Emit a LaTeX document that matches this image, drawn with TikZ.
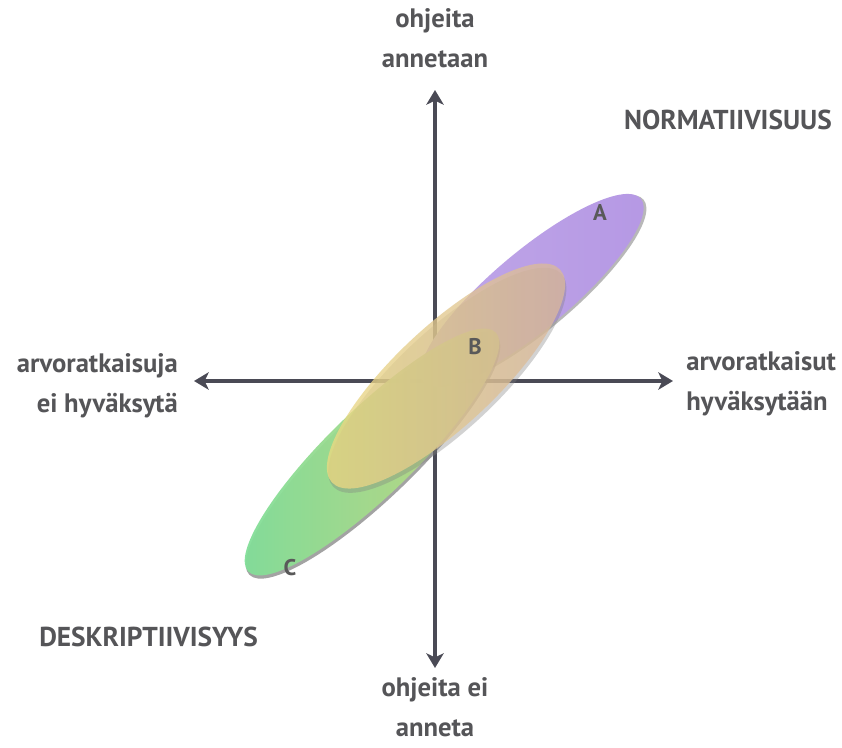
\documentclass[tikz,border=0pt]{standalone}
\usepackage{fontspec}
\setmainfont{PT Sans}
\usetikzlibrary{arrows.meta}
\definecolor{axisc}{HTML}{4A4A55}
\definecolor{txtc}{HTML}{555558}
\definecolor{ellA}{HTML}{B598E4}
\definecolor{ellB}{HTML}{D8B59F}
\definecolor{ellCa}{HTML}{7EDF9A}
\definecolor{ellCb}{HTML}{C9D67C}
\begin{document}
\begin{tikzpicture}[x=0.75pt,y=-0.75pt,
  lbl/.style={font=\fontsize{20}{30}\selectfont\bfseries, text=txtc, inner sep=0pt},
  caps/.style={font=\fontsize{20.5}{30}\selectfont\bfseries, text=txtc, inner sep=0pt},
  axisline/.style={draw=axisc, line width=3.6pt, -{Stealth[length=11pt,width=13pt,inset=3pt]}},
  letter/.style={font=\fontsize{17}{20}\selectfont\bfseries, text=black!65, inner sep=0pt}]
\useasboundingbox (0,0) rectangle (842,747);
\fill[white] (0,0) rectangle (842,747);
% axes
\coordinate (ctr) at (435,381);
\coordinate (top) at (435,90);
\coordinate (bot) at (435,668);
\coordinate (lft) at (194,381);
\coordinate (rgt) at (673,381);
\draw[axisline] (ctr) -- (top);
\draw[axisline] (ctr) -- (bot);
\draw[axisline] (ctr) -- (lft);
\draw[axisline] (ctr) -- (rgt);
% ellipse A
\begin{scope}[shift={(532,290)}, rotate=40]
  \fill[black!55, opacity=0.5] (1.5,2.5) ellipse [x radius=142, y radius=39];
  \shade[left color=ellA!85!white, right color=ellA] (0,0) ellipse [x radius=142, y radius=39];
\end{scope}
% ellipse C
\begin{scope}[shift={(372,452)}, rotate=44]
  \fill[black!65, opacity=0.55] (-1.5,3) ellipse [x radius=172, y radius=43];
  \shade[left color=ellCa, right color=ellCb, opacity=0.95] (0,0) ellipse [x radius=172, y radius=43];
\end{scope}
% ellipse B
\begin{scope}[shift={(446,376)}, rotate=43]
  \fill[black!50, opacity=0.35] (-2,4) ellipse [x radius=156, y radius=50];
  \shade[left color=ellB!60!yellow!80!white, right color=ellB, opacity=0.78] (0,0) ellipse [x radius=156, y radius=50];
\end{scope}
% letters
\node[letter] (la) at (600,213) {A};
\node[letter] (lb) at (475,347) {B};
\node[letter] (lc) at (290,568) {C};
% labels
\node[lbl, align=center] (ntop) at (435,38) {ohjeita\\annetaan};
\node[lbl, align=center] (nbot) at (435,707) {ohjeita ei\\anneta};
\node[lbl, align=right, anchor=east] (nlft) at (178,386) {arvoratkaisuja\\ei hyväksytä};
\node[lbl, align=left, anchor=west] (nrgt) at (686,384) {arvoratkaisut\\hyväksytään};
\node[caps, anchor=east] (norm) at (832,120) {NORMATIIVISUUS};
\node[caps, anchor=west] (desk) at (39,637) {DESKRIPTIIVISYYS};
\end{tikzpicture}
\end{document}
